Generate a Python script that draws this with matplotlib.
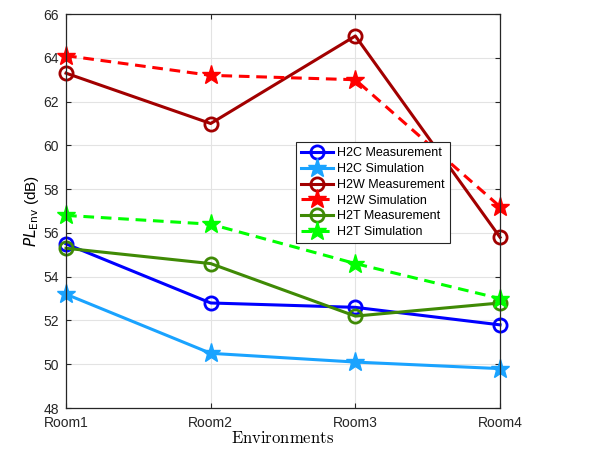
import matplotlib
matplotlib.use("Agg")
import matplotlib.pyplot as plt

rooms = ["Room1", "Room2", "Room3", "Room4"]
h2c_meas = [55.5, 52.8, 52.6, 51.8]
h2c_sim = [53.2, 50.5, 50.1, 49.8]
h2w_meas = [63.3, 61.0, 65.0, 55.8]
h2w_sim = [64.1, 63.2, 63.0, 57.2]
h2t_meas = [55.3, 54.6, 52.2, 52.8]
h2t_sim = [56.8, 56.4, 54.6, 53.0]

plt.rcParams['font.family'] = ['Liberation Sans', 'DejaVu Sans']
plt.rcParams['font.size'] = 10

fig = plt.figure(figsize=(6.13, 4.69), dpi=100)
ax = fig.add_axes([0.1077, 0.130, 0.708, 0.840])

x = range(len(rooms))
lw = 2.2
circ = dict(marker='o', markersize=9.5, markerfacecolor='none', markeredgewidth=2, clip_on=False)
star = dict(marker='*', markersize=14, clip_on=False)
dash = (0, (3.5, 2.2))

ax.plot(x, h2c_meas, color='#0000ff', lw=lw, label='H2C Measurement', **circ)
ax.plot(x, h2c_sim, color='#1aa3ff', lw=lw, label='H2C Simulation', **star)
ax.plot(x, h2w_meas, color='#a20000', lw=lw, label='H2W Measurement', **circ)
ax.plot(x, h2w_sim, color='#ff0000', lw=lw, ls=dash, label='H2W Simulation', **star)
ax.plot(x, h2t_meas, color='#3f8a05', lw=lw, label='H2T Measurement', **circ)
ax.plot(x, h2t_sim, color='#00ff00', lw=lw, ls=dash, label='H2T Simulation', **star)

ax.set_xlim(0, 3)
ax.set_ylim(48, 66)
ax.set_xticks(list(x))
ax.set_xticklabels(rooms)
ax.set_yticks(range(48, 67, 2))
ax.grid(True, color='#e3e3e3', lw=0.8)
ax.set_axisbelow(True)
ax.tick_params(direction='in', top=True, right=True, colors='#262626', labelsize=10)
ax.tick_params(axis='x', pad=6)
ax.tick_params(axis='y', pad=5)
for s in ax.spines.values():
    s.set_color('#262626')
    s.set_linewidth(0.9)

ax.set_xlabel(r'$\mathrm{Environments}$', fontsize=12, math_fontfamily='cm', labelpad=0)
ax.set_ylabel(r'$PL_{\mathrm{Env}}$ (dB)', fontsize=11, labelpad=2)

leg = ax.legend(loc='upper left', bbox_to_anchor=(0.515, 0.69), fontsize=9,
                fancybox=False, edgecolor='#262626', framealpha=1,
                handlelength=2.6, borderpad=0.4, labelspacing=0.3, handletextpad=0.3)
leg.get_frame().set_linewidth(0.8)

fig.savefig('out.png', dpi=100)
